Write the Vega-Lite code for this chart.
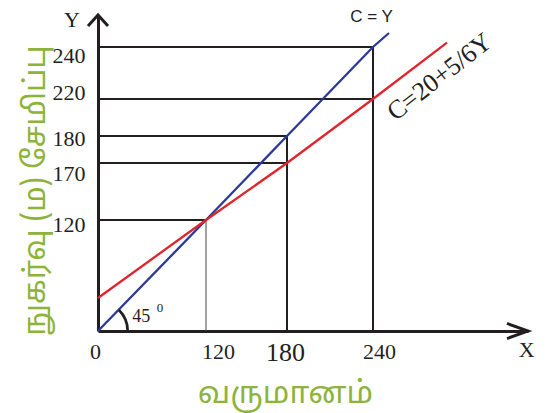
{
  "$schema": "https://vega.github.io/schema/vega-lite/v6.json",
  "width": 430,
  "height": 316,
  "autosize": {"type": "none"},
  "padding": {"left": 98, "top": 15, "right": 19, "bottom": 82},
  "background": "white",
  "config": {"view": {"stroke": null}},
  "datasets": {
    "guides": [
      {"x": 0, "x2": 240, "y": 240, "y2": 240},
      {"x": 0, "x2": 240, "y": 220, "y2": 220},
      {"x": 0, "x2": 180, "y": 180, "y2": 180},
      {"x": 0, "x2": 180, "y": 170, "y2": 170},
      {"x": 0, "x2": 120, "y": 120, "y2": 120},
      {"x": 240, "x2": 240, "y": 0, "y2": 240},
      {"x": 180, "x2": 180, "y": 0, "y2": 180}
    ],
    "guide120": [
      {"x": 120, "x2": 120, "y": 0, "y2": 120}
    ],
    "lines": [
      {"series": "C = Y", "x": 0, "y": 0},
      {"series": "C = Y", "x": 120, "y": 120},
      {"series": "C = Y", "x": 180, "y": 180},
      {"series": "C = Y", "x": 240, "y": 240},
      {"series": "C = Y", "x": 253, "y": 253},
      {"series": "C=20+5/6Y", "x": 0, "y": 20},
      {"series": "C=20+5/6Y", "x": 120, "y": 120},
      {"series": "C=20+5/6Y", "x": 180, "y": 170},
      {"series": "C=20+5/6Y", "x": 240, "y": 220},
      {"series": "C=20+5/6Y", "x": 300, "y": 244}
    ],
    "origin": [{"x": 0, "y": 0}],
    "xtip": [{"x": 360, "y": 0}],
    "ytip": [{"x": 0, "y": 270}],
    "axisnames": [
      {"label": "Y", "x": -29, "y": 265},
      {"label": "X", "x": 359, "y": -11.5}
    ],
    "linename": [{"label": "C = Y", "x": 239, "y": 268}],
    "eqname": [{"label": "C=20+5/6Y", "x": 294, "y": 228.5}],
    "angle": [{"label": "45", "x": 48, "y": 8.5}],
    "degree": [{"label": "0", "x": 69, "y": 14}]
  },
  "encoding": {
    "x": {
      "field": "x",
      "type": "quantitative",
      "scale": {"domain": [0, 120, 180, 240, 300, 360], "range": [0, 108, 189, 275, 349, 430], "nice": false, "zero": false},
      "axis": {
        "values": [0, 120, 180, 240],
        "title": "வருமானம்",
        "grid": false,
        "ticks": false,
        "domainColor": "#231F20",
        "domainWidth": 3,
        "labelFont": "Liberation Serif",
        "labelFontSize": {"condition": {"test": "datum.value == 180", "value": 26}, "value": 22},
        "labelColor": "#231F20",
        "labelPadding": {"condition": {"test": "datum.value == 180", "value": 8}, "value": 10},
        "labelFlush": false,
        "labelOverlap": false,
        "labelOffset": {"condition": [
          {"test": "datum.value == 0", "value": -3},
          {"test": "datum.value == 120", "value": 12},
          {"test": "datum.value == 240", "value": 6}
        ], "value": -2},
        "titleFont": "Noto Sans Tamil, Noto Sans, sans-serif",
        "titleFontSize": 31,
        "titleFontWeight": "normal",
        "titleColor": "#8DB33A",
        "titleX": 187,
        "titleY": 62,
        "titleAlign": "center",
        "titleBaseline": "middle"
      }
    },
    "y": {
      "field": "y",
      "type": "quantitative",
      "scale": {"domain": [0, 20, 120, 170, 180, 220, 240, 253, 270], "range": [316, 283, 205, 148, 121, 84, 32, 18, 0], "nice": false, "zero": false},
      "axis": {
        "values": [120, 170, 180, 220, 240],
        "title": "நுகர்வு (ம) சேமிப்பு",
        "grid": false,
        "ticks": false,
        "domainColor": "#231F20",
        "domainWidth": 3,
        "labelFont": "Liberation Serif",
        "labelFontSize": 22,
        "labelColor": "#231F20",
        "labelPadding": 13,
        "labelFlush": false,
        "labelOverlap": false,
        "labelOffset": {"condition": [
          {"test": "datum.value == 240", "value": 8},
          {"test": "datum.value == 220", "value": -7},
          {"test": "datum.value == 180", "value": 2},
          {"test": "datum.value == 170", "value": 10}
        ], "value": 4},
        "titleFont": "Noto Sans Tamil, Noto Sans, sans-serif",
        "titleFontSize": 30,
        "titleFontWeight": "normal",
        "titleColor": "#8DB33A",
        "titleAngle": -90,
        "titleX": -63,
        "titleY": 175,
        "titleAlign": "center",
        "titleBaseline": "middle"
      }
    }
  },
  "layer": [
    {
      "data": {"name": "guides"},
      "mark": {"type": "rule", "color": "#231F20", "strokeWidth": 2},
      "encoding": {"x2": {"field": "x2"}, "y2": {"field": "y2"}}
    },
    {
      "data": {"name": "guide120"},
      "mark": {"type": "rule", "color": "#444444", "strokeWidth": 1},
      "encoding": {"x2": {"field": "x2"}, "y2": {"field": "y2"}}
    },
    {
      "data": {"name": "lines"},
      "transform": [{"filter": "datum.series == 'C = Y'"}],
      "mark": {"type": "line", "color": "#2B3A97", "strokeWidth": 2.3},
      "encoding": {}
    },
    {
      "data": {"name": "lines"},
      "transform": [{"filter": "datum.series == 'C=20+5/6Y'"}],
      "mark": {"type": "line", "color": "#E1242B", "strokeWidth": 2.3},
      "encoding": {}
    },
    {
      "data": {"name": "origin"},
      "mark": {"type": "arc", "theta": 0.785, "theta2": 1.5708, "radius": 31, "radius2": 28.3, "fill": "#231F20"},
      "encoding": {}
    },
    {
      "data": {"name": "xtip"},
      "mark": {"type": "point", "shape": "M -1 -0.36 L 0 0 L -1 0.36", "size": 1764, "filled": false, "stroke": "#231F20", "strokeWidth": 3, "opacity": 1},
      "encoding": {}
    },
    {
      "data": {"name": "ytip"},
      "mark": {"type": "point", "shape": "M -1 1.1 L 0 0 L 1 1.1", "size": 400, "filled": false, "stroke": "#231F20", "strokeWidth": 3, "opacity": 1},
      "encoding": {}
    },
    {
      "data": {"name": "axisnames"},
      "mark": {"type": "text", "font": "Liberation Serif", "fontSize": 22, "color": "#231F20", "align": "center", "baseline": "middle"},
      "encoding": {"text": {"field": "label"}}
    },
    {
      "data": {"name": "linename"},
      "mark": {"type": "text", "font": "Liberation Sans", "fontSize": 17, "color": "#231F20", "align": "center", "baseline": "middle"},
      "encoding": {"text": {"field": "label"}}
    },
    {
      "data": {"name": "eqname"},
      "mark": {"type": "text", "font": "Liberation Serif", "fontSize": 26, "color": "#231F20", "align": "center", "baseline": "middle", "angle": -38},
      "encoding": {"text": {"field": "label"}}
    },
    {
      "data": {"name": "angle"},
      "mark": {"type": "text", "font": "Liberation Serif", "fontSize": 18, "color": "#231F20", "align": "center", "baseline": "middle"},
      "encoding": {"text": {"field": "label"}}
    },
    {
      "data": {"name": "degree"},
      "mark": {"type": "text", "font": "Liberation Serif", "fontSize": 13, "color": "#231F20", "align": "center", "baseline": "middle"},
      "encoding": {"text": {"field": "label"}}
    }
  ]
}
